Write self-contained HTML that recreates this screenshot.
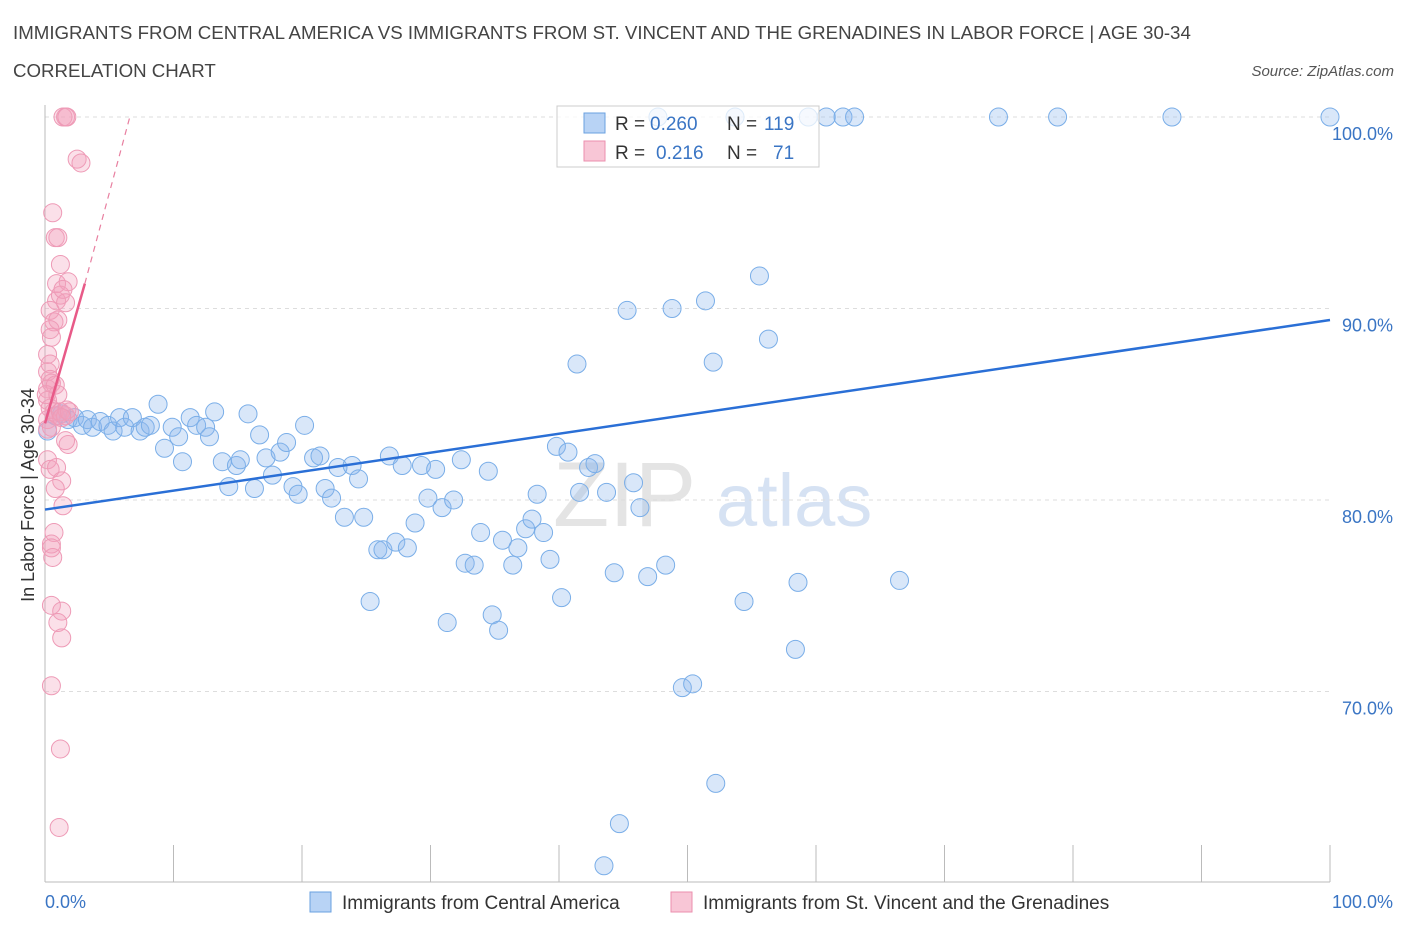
<!DOCTYPE html>
<html><head><meta charset="utf-8"><style>
body{margin:0;background:#fff;font-family:"Liberation Sans",sans-serif}
svg text{font-family:"Liberation Sans",sans-serif}
</style></head><body>
<svg id="c" width="1406" height="930" xmlns="http://www.w3.org/2000/svg">
<text x="13" y="39" font-size="18.7" fill="#444">IMMIGRANTS FROM CENTRAL AMERICA VS IMMIGRANTS FROM ST. VINCENT AND THE GRENADINES IN LABOR FORCE | AGE 30-34</text>
<text x="13" y="77" font-size="18.7" fill="#444">CORRELATION CHART</text>
<text x="1394" y="76" font-size="15" fill="#555" font-style="italic" text-anchor="end">Source: ZipAtlas.com</text>
<text x="0" y="0" transform="translate(34,495) rotate(-90)" font-size="18" fill="#333" text-anchor="middle">In Labor Force | Age 30-34</text>
<g><text x="553" y="526" font-size="92" fill="#e4e4e4" font-family="Liberation Serif,serif">ZIP</text><text x="716" y="526" font-size="74" fill="#d6e2f3">atlas</text></g>
<g id="grid"></g><g id="pts"></g><g id="trend"></g>
<g>
<rect x="557" y="106" width="262" height="61" fill="#fff" fill-opacity="0.75" stroke="#ccc"/>
<rect x="584" y="113" width="21" height="20" fill="#b8d3f5" stroke="#6aa0e0"/>
<rect x="584" y="141" width="21" height="20" fill="#f8c6d6" stroke="#eb8fae"/>
<text x="615" y="130" font-size="19" fill="#333">R =</text>
<text x="650" y="130" font-size="19" fill="#3a75c4">0.260</text>
<text x="727" y="130" font-size="19" fill="#333">N =</text>
<text x="764" y="130" font-size="19" fill="#3a75c4">119</text>
<text x="615" y="159" font-size="19" fill="#333">R =</text>
<text x="656" y="159" font-size="19" fill="#3a75c4">0.216</text>
<text x="727" y="159" font-size="19" fill="#333">N =</text>
<text x="773" y="159" font-size="19" fill="#3a75c4">71</text>
</g>
<g>
<rect x="310" y="892" width="21" height="20" fill="#b8d3f5" stroke="#6aa0e0"/>
<text x="342" y="909" font-size="19" fill="#333">Immigrants from Central America</text>
<rect x="671" y="892" width="21" height="20" fill="#f8c6d6" stroke="#eb8fae"/>
<text x="703" y="909" font-size="19" fill="#333">Immigrants from St. Vincent and the Grenadines</text>
</g>
</svg>
<script>
const blueX=[0.2,0.8,1.3,1.8,2.3,2.9,3.3,3.7,4.3,4.9,5.3,5.8,6.2,6.8,7.4,7.8,8.2,8.8,9.3,9.9,10.4,10.7,11.3,11.8,12.5,12.8,13.2,13.8,14.3,14.9,15.2,15.8,16.3,16.7,17.2,17.7,18.3,18.8,19.3,19.7,20.2,20.9,21.4,21.8,22.3,22.8,23.3,23.9,24.4,24.8,25.3,25.9,26.3,26.8,27.3,27.8,28.2,28.8,29.3,29.8,30.4,30.9,31.3,31.8,32.4,32.7,33.4,33.9,34.5,34.8,35.3,35.6,36.4,36.8,37.4,37.9,38.3,38.8,39.3,39.8,40.2,40.7,41.6,42.3,42.8,43.7,44.3,44.7,43.5,45.3,45.8,46.3,46.9,48.3,48.8,49.6,50.4,51.4,52.0,52.2,54.4,55.6,56.3,58.4,58.6,41.4,66.5,47.7,53.7,59.4,60.8,62.1,63.0,74.2,78.8,87.7,100];
const blueY=[83.6,84.4,84.5,84.2,84.3,83.9,84.2,83.8,84.1,83.9,83.6,84.3,83.8,84.3,83.6,83.8,83.9,85.0,82.7,83.8,83.3,82.0,84.3,83.9,83.8,83.3,84.6,82.0,80.7,81.8,82.1,84.5,80.6,83.4,82.2,81.3,82.5,83.0,80.7,80.3,83.9,82.2,82.3,80.6,80.1,81.7,79.1,81.8,81.1,79.1,74.7,77.4,77.4,82.3,77.8,81.8,77.5,78.8,81.8,80.1,81.6,79.6,73.6,80.0,82.1,76.7,76.6,78.3,81.5,74.0,73.2,77.9,76.6,77.5,78.5,79.0,80.3,78.3,76.9,82.8,74.9,82.5,80.4,81.7,81.9,80.4,76.2,63.1,60.9,89.9,80.9,79.6,76.0,76.6,90.0,70.2,70.4,90.4,87.2,65.2,74.7,91.7,88.4,72.2,75.7,87.1,75.8,100,100,100,100,100,100,100,100,100,100];
const pinkX=[1.4,1.6,1.7,2.5,2.8,0.6,0.8,1.0,1.2,0.9,1.8,0.9,1.2,1.4,1.6,0.4,0.7,1.0,0.4,0.5,0.2,0.4,0.2,0.4,0.2,0.5,0.8,0.2,0.4,0.7,1.0,0.2,0.5,1.2,1.6,1.7,1.9,1.8,1.6,0.2,0.4,0.9,1.3,0.8,1.4,0.7,0.5,0.5,0.6,0.5,1.3,1.0,1.3,0.5,1.2,1.1,0.2,0.1,1.0,1.3];
const pinkY=[100,100,100,97.8,97.6,95.0,93.7,93.7,92.3,91.3,91.4,90.4,90.7,91.0,90.3,89.9,89.3,89.4,88.9,88.5,87.6,87.1,86.7,86.3,85.8,86.1,86.0,85.2,84.8,84.6,84.4,84.2,83.8,84.6,84.4,84.7,84.6,82.9,83.1,82.1,81.6,81.7,81.0,80.6,79.7,78.3,77.7,77.5,77.0,74.5,74.2,73.6,72.8,70.3,67.0,62.9,83.7,85.5,85.5,84.3];
const yTicks=[100,90,80,70];
const yTickLabels=["100.0%","90.0%","80.0%","70.0%"];
const blueTrend=[[0,79.5],[100,89.4]];
const pinkTrend=[[0,84.0],[3.1,91.3],[6.6,100]];
const NS="http://www.w3.org/2000/svg";
const X=v=>45+v*12.85, Y=v=>117+(100-v)*19.15;
function mk(t,a,p){const e=document.createElementNS(NS,t);for(const k in a)e.setAttribute(k,a[k]);p.appendChild(e);return e;}
const g=document.getElementById('grid');
yTicks.forEach((t,i)=>{
 const l=mk('line',{x1:45,x2:1330,y1:Y(t),y2:Y(t),stroke:'#ddd','stroke-dasharray':'4,4'},g);
 
 
 const tx=mk('text',{x:1393,y:Y(t)+23,'font-size':18,fill:'#3a75c4','text-anchor':'end'},g);tx.textContent=yTickLabels[i];
 
 
});
const ax=mk('line',{x1:45,x2:1330,y1:882,y2:882,stroke:'#bbb'},g);


const ay=mk('line',{x1:45,x2:45,y1:105,y2:882,stroke:'#bbb'},g);


for(let i=0;i<=10;i++){const t=mk('line',{x1:X(i*10),x2:X(i*10),y1:845,y2:882,stroke:'#bbb'},g);
 
 }
[['0.0%',45,'start'],['100.0%',1393,'end']].forEach(a=>{const t=mk('text',{x:a[1],y:908,'font-size':18,fill:'#3a75c4','text-anchor':a[2]},g);t.textContent=a[0];
 
 });
const p=document.getElementById('pts');
blueX.forEach((x,i)=>{const c=mk('circle',{cx:X(x),cy:Y(blueY[i]),r:9,fill:'rgba(140,182,238,0.33)',stroke:'#7aaee8','stroke-width':1},p);
 
 });
pinkX.forEach((x,i)=>{const c=mk('circle',{cx:X(x),cy:Y(pinkY[i]),r:9,fill:'rgba(244,160,188,0.33)',stroke:'#ee9ab6','stroke-width':1},p);
 
 });
const tr=document.getElementById('trend');
const bl=mk('line',{x1:X(blueTrend[0][0]),y1:Y(blueTrend[0][1]),x2:X(blueTrend[1][0]),y2:Y(blueTrend[1][1]),stroke:'#2a6fd6','stroke-width':2.5},tr);


const pl=mk('line',{x1:X(pinkTrend[0][0]),y1:Y(pinkTrend[0][1]),x2:X(pinkTrend[1][0]),y2:Y(pinkTrend[1][1]),stroke:'#e85a88','stroke-width':2.5},tr);


const pd=mk('line',{x1:X(pinkTrend[1][0]),y1:Y(pinkTrend[1][1]),x2:X(pinkTrend[2][0]),y2:Y(pinkTrend[2][1]),stroke:'#e87fa0','stroke-width':1.2,'stroke-dasharray':'6,5'},tr);


</script>
</body></html>
